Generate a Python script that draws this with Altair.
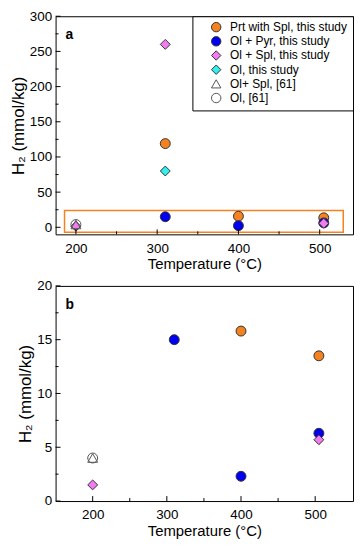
import altair as alt
import pandas as pd

# ---- data ----
series_names = ["Prt with Spl, this study", "Ol + Pyr, this study", "Ol + Spl, this study",
                "Ol, this study", "Ol+ Spl, [61]", "Ol, [61]"]
series_fill = ["#F58220", "#0000F0", "#F07CF0", "#33F0F0", "transparent", "transparent"]
series_stroke = ["#333333", "#333333", "#333333", "#333333", "#555555", "#555555"]
series_shape = ["circle", "circle", "diamond", "diamond", "triangle-up", "circle"]

prt_T = [310, 400, 505]
prt_H2 = [119, 15.8, 13.5]
olpyr_T = [310, 400, 505]
olpyr_H2 = [15, 2.3, 6.3]
olspl_T = [200, 310, 505]
olspl_H2 = [1.5, 260, 5.7]
ol_T = [310]
ol_H2 = [80]
olspl61_T = [200]
olspl61_H2 = [4]
ol61_T = [200]
ol61_H2 = [4]

# zoom box drawn on panel a (region shown in panel b)
box_T = [186, 529]
box_H2 = [-7, 24]

x_major = [200, 300, 400, 500]
x_minor = [250, 350, 450]
ya_major = [0, 50, 100, 150, 200, 250, 300]
ya_minor = [25, 75, 125, 175, 225, 275]
yb_major = [0, 5, 10, 15, 20]
yb_minor = [2.5, 7.5, 12.5, 17.5]

rows = []
for name, T, H in [(series_names[0], prt_T, prt_H2), (series_names[1], olpyr_T, olpyr_H2),
                   (series_names[2], olspl_T, olspl_H2), (series_names[3], ol_T, ol_H2),
                   (series_names[4], olspl61_T, olspl61_H2), (series_names[5], ol61_T, ol61_H2)]:
    for t, h in zip(T, H):
        rows.append({"series": name, "T": t, "H2": h})
df = pd.DataFrame(rows)

FONT = "Liberation Sans"
W = 300


def panel(ydom, yticks_major, yticks_minor, xdom, h, letter, show_legend, data):
    xs = alt.Scale(domain=xdom, nice=False, zero=False)
    ys = alt.Scale(domain=ydom, nice=False, zero=False)
    xaxis = alt.Axis(values=x_major, grid=False, ticks=False, domain=False,
                     labelPadding=7, titlePadding=2, labelOverlap=False)
    yaxis = alt.Axis(values=yticks_major, grid=False, ticks=False, domain=False,
                     labelPadding=4, titlePadding=2, labelOverlap=False, titleFontSize=17)
    xt = "Temperature (°C)"
    yt = "H₂ (mmol/kg)"
    legend = alt.Legend(title=None, orient="top-right", offset=0, strokeColor="black",
                        fillColor="white", padding=5, symbolOffset=13, labelOffset=8,
                        labelFont=FONT, labelFontSize=12, labelColor="black",
                        rowPadding=0.3, symbolSize=90, symbolStrokeWidth=1) if show_legend else None
    pts = alt.Chart(data).mark_point(filled=False, size=100, strokeWidth=1, opacity=1).encode(
        x=alt.X("T:Q", scale=xs, title=xt, axis=xaxis),
        y=alt.Y("H2:Q", scale=ys, title=yt, axis=yaxis),
        shape=alt.Shape("series:N", scale=alt.Scale(domain=series_names, range=series_shape), legend=legend),
        fill=alt.Fill("series:N", scale=alt.Scale(domain=series_names, range=series_fill), legend=legend),
        stroke=alt.Stroke("series:N", scale=alt.Scale(domain=series_names, range=series_stroke), legend=legend),
    )
    xtick_major = alt.Chart(pd.DataFrame({"v": x_major})).mark_rule(color="black", strokeWidth=1).encode(
        x=alt.X("v:Q", scale=xs, title=xt, axis=xaxis), y=alt.value(h), y2=alt.value(h - 5))
    xtick_minor = alt.Chart(pd.DataFrame({"v": x_minor})).mark_rule(color="black", strokeWidth=1).encode(
        x=alt.X("v:Q", scale=xs, title=xt, axis=xaxis), y=alt.value(h), y2=alt.value(h - 3))
    ytick_major = alt.Chart(pd.DataFrame({"v": yticks_major})).mark_rule(color="black", strokeWidth=1).encode(
        y=alt.Y("v:Q", scale=ys, title=yt, axis=yaxis), x=alt.value(0), x2=alt.value(5))
    ytick_minor = alt.Chart(pd.DataFrame({"v": yticks_minor})).mark_rule(color="black", strokeWidth=1).encode(
        y=alt.Y("v:Q", scale=ys, title=yt, axis=yaxis), x=alt.value(0), x2=alt.value(3))
    lab = alt.Chart(pd.DataFrame({"t": [letter]})).mark_text(
        font=FONT, fontSize=14, fontWeight="bold", align="left", baseline="middle", color="black"
    ).encode(text="t:N", x=alt.value(10), y=alt.value(19))
    layers = [pts]
    if letter == "a":
        box = alt.Chart(pd.DataFrame({"x1": [box_T[0]], "x2": [box_T[1]],
                                      "y1": [box_H2[0]], "y2": [box_H2[1]]})).mark_rect(
            fill="transparent", stroke="#F58220", strokeWidth=1.5).encode(
            x=alt.X("x1:Q", scale=xs, title=xt, axis=xaxis), x2="x2:Q",
            y=alt.Y("y1:Q", scale=ys, title=yt, axis=yaxis), y2="y2:Q")
        layers.insert(0, box)
    layers += [xtick_major, xtick_minor, ytick_major, ytick_minor, lab]
    return alt.layer(*layers).properties(width=W, height=h)


top = panel([-10, 300], ya_major, ya_minor, [175, 541], 220, "a", True, df)
bottom = panel([0, 20], yb_major, yb_minor, [150, 551], 217, "b", False, df[df.H2 <= 20])

chart = alt.vconcat(top, bottom, spacing=6).resolve_scale(
    shape="independent", fill="independent", stroke="independent"
).properties(padding={"left": 0, "top": -2, "right": 0, "bottom": 0}).configure_view(
    stroke="black", strokeWidth=1
).configure_axis(
    labelFont=FONT, labelFontSize=13.5, labelColor="black",
    titleFont=FONT, titleFontSize=15, titleFontWeight="normal", titleColor="black"
)

chart.save("out.html", embed_options={"renderer": "svg", "actions": False})
